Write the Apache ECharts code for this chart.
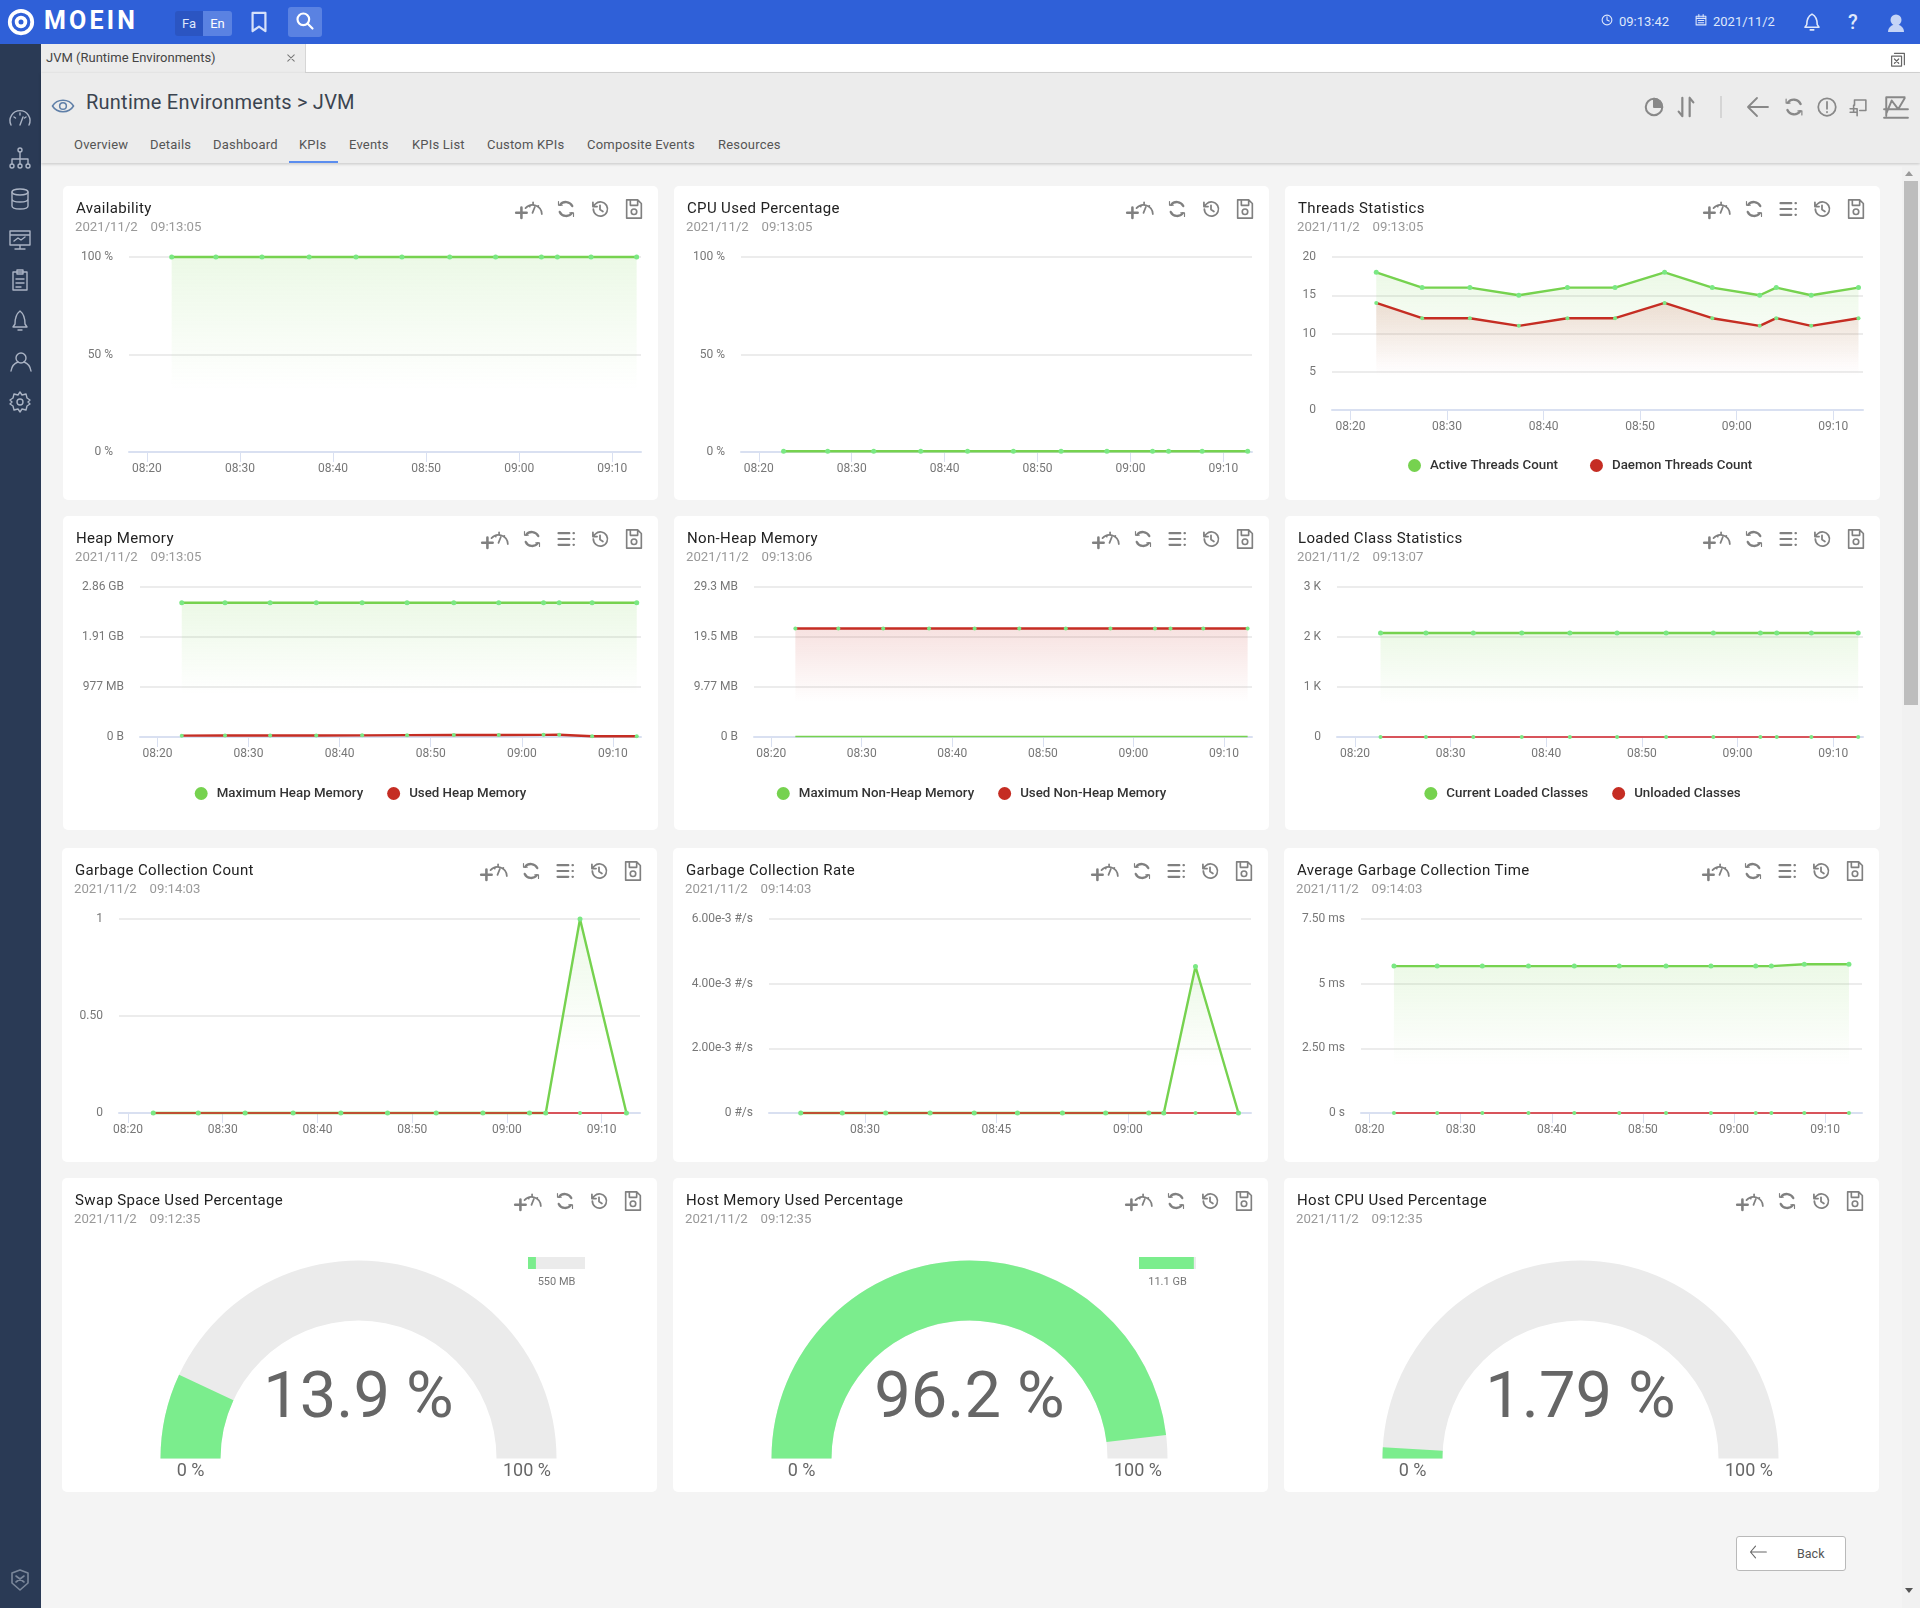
<!DOCTYPE html>
<html>
<head>
<meta charset="utf-8">
<title>JVM KPIs</title>
<script src="https://cdn.jsdelivr.net/npm/echarts@6/dist/echarts.min.js"></script>
<style>
html,body{margin:0;padding:0;width:1920px;height:1608px;overflow:hidden;background:#f4f4f4;font-family:Roboto,sans-serif;color:#333}
div,span,svg{position:absolute}
.top{left:0;top:0;width:1920px;height:44px;background:#2f60d8;color:#dfe8fb;font-size:13px}
.side{left:0;top:44px;width:41px;height:1564px;background:#2a3a55}
.tabbar{left:41px;top:44px;width:1879px;height:28px;background:#fff;border-bottom:1px solid #d6d6d6}
.tab{left:0;top:0;width:264px;height:29px;background:#ececec;border-right:1px solid #d6d6d6;font-size:13px;line-height:28px;text-indent:5px;color:#444}
.head{left:41px;top:73px;width:1879px;height:90px;background:#ececec;box-shadow:0 1px 3px rgba(0,0,0,.2)}
.crumb{left:45px;top:17px;font-size:20px;letter-spacing:.24px;color:#3b4450;white-space:nowrap}
.nav{top:63px;font-size:13px;letter-spacing:.2px;color:#555;white-space:nowrap;line-height:18px}
.ink{left:248px;top:88px;width:49px;height:2px;background:#5b8def}
.card{background:#fff;border-radius:5px}
.chart{left:0;top:0;width:100%;height:100%}
.ttl{left:13px;top:12px;font-size:15px;letter-spacing:.35px;color:#222;white-space:nowrap;line-height:20px}
.sub{left:12px;top:32px;font-size:13.2px;word-spacing:1px;color:#999;white-space:pre;line-height:18px}
.bar{left:1902px;top:166px;width:18px;height:1442px;background:#f1f1f1}
.thumb{left:2px;top:15px;width:14px;height:524px;background:#bdbdbd}
.back{left:1736px;top:1536px;width:108px;height:33px;background:#fff;border:1px solid #b9b9b9;border-radius:3px;font-size:12.5px;color:#555;line-height:33px;text-indent:60px}
.ic{fill:none;stroke-linecap:round;stroke-linejoin:round}
</style>
</head>
<body>
<div class="top">
  <span id="logoText" style="left:44px;top:6px;font-size:25px;font-weight:700;letter-spacing:3.2px;color:#fff">MOEIN</span>
  <span style="left:175px;top:11px;width:28px;height:25px;background:#2b55c2;border-radius:3px 0 0 3px;text-align:center;line-height:25px">Fa</span>
  <span style="left:203px;top:11px;width:29px;height:25px;background:#5a82e2;border-radius:0 3px 3px 0;text-align:center;line-height:25px;color:#fff">En</span>
  <span style="left:288px;top:7px;width:34px;height:30px;background:#5a82e2;border-radius:3px"></span>
  <span style="left:1619px;top:14px">09:13:42</span>
  <span style="left:1713px;top:14px">2021/11/2</span>
  <span style="left:1848px;top:10px;font-size:20px;font-weight:500;color:#dfe8fb">?</span>
</div>
<div class="side"></div>
<div class="tabbar"><div class="tab">JVM (Runtime Environments)</div></div>
<div class="head">
  <span class="crumb">Runtime Environments &gt; JVM</span>
  <span class="nav" style="left:33px">Overview</span>
  <span class="nav" style="left:109px">Details</span>
  <span class="nav" style="left:172px">Dashboard</span>
  <span class="nav" style="left:258px">KPIs</span>
  <span class="nav" style="left:308px">Events</span>
  <span class="nav" style="left:371px">KPIs List</span>
  <span class="nav" style="left:446px">Custom KPIs</span>
  <span class="nav" style="left:546px">Composite Events</span>
  <span class="nav" style="left:677px">Resources</span>
  <div class="ink"></div>
</div>
<div class="bar"><div class="thumb"></div></div>
<div class="back">Back</div>
<div id="cards"></div>
<svg id="icons" width="1920" height="1608" style="left:0;top:0;pointer-events:none"></svg>

<script>
// sample times shared by all the trend charts
var sampleTimes = ["08:22:40","08:27:25","08:32:22","08:37:26","08:42:28","08:47:24","08:52:32","08:57:28","09:02:23","09:04:06","09:07:43","09:12:37"];
var tickTimes = ["08:20:00","08:30:00","08:40:00","08:50:00","09:00:00","09:10:00"];
var rateTickTimes = ["08:30:00","08:45:00","09:00:00"];

var availabilityValues = [100,100,100,100,100,100,100,100,100,100,100,100];
var cpuValues = [0.4,0.4,0.4,0.4,0.4,0.4,0.4,0.4,0.4,0.4,0.4,0.4];
var activeThreads = [18,16,16,15,16,16,18,16,15,16,15,16];
var daemonThreads = [14,12,12,11,12,12,14,12,11,12,11,12];
var heapMax = [2750,2750,2750,2750,2750,2750,2750,2750,2750,2750,2750,2750];
var heapUsed = [28,30,30,32,34,38,40,42,44,46,14,16];
var nonHeapMax = [0.1,0.1,0.1,0.1,0.1,0.1,0.1,0.1,0.1,0.1,0.1,0.1];
var nonHeapUsed = [21.2,21.2,21.2,21.2,21.2,21.2,21.2,21.2,21.2,21.2,21.2,21.2];
var loadedClasses = [2.08,2.08,2.08,2.08,2.08,2.08,2.08,2.08,2.08,2.08,2.08,2.08];
var unloadedClasses = [0,0,0,0,0,0,0,0,0,0,0,0];
var gcCount = [0,0,0,0,0,0,0,0,0,0,1,0];
var gcCountOther = [0,0,0,0,0,0,0,0,0,0,0,0];
var gcRate = [0,0,0,0,0,0,0,0,0,0,4.53,0];
var gcRateOther = [0,0,0,0,0,0,0,0,0,0,0,0];
var gcTime = [5.68,5.68,5.68,5.68,5.68,5.68,5.68,5.68,5.68,5.68,5.75,5.75];
var gcTimeOther = [0,0,0,0,0,0,0,0,0,0,0,0];

var percentLabels = ["0 %","50 %","100 %"];
var threadLabels = ["0","5","10","15","20"];
var heapLabels = ["0 B","977 MB","1.91 GB","2.86 GB"];
var nonHeapLabels = ["0 B","9.77 MB","19.5 MB","29.3 MB"];
var classLabels = ["0","1 K","2 K","3 K"];
var countLabels = ["0","0.50","1"];
var rateLabels = ["0 #/s","2.00e-3 #/s","4.00e-3 #/s","6.00e-3 #/s"];
var timeLabels = ["0 s","2.50 ms","5 ms","7.50 ms"];

var gaugeValues = [13.9,96.2,1.79];
var gaugeCaptions = ["550 MB","11.1 GB",""];
var gaugeEnds = ["0 %","100 %"];

var GREEN="#76d24f", RED="#c52d23", DOT="#7be884", FILL="#7bed8d";
var colX=[63,674,1285], rowY=[186,516,848,1178], CARD_W=595, CARD_H=314;

var trendCards = [
 {title:"Availability",stamp:"09:13:05",col:0,row:0,left:66,bottom:48,step:50,labels:percentLabels,series:[["Availability",availabilityValues,GREEN]]},
 {title:"CPU Used Percentage",stamp:"09:13:05",col:1,row:0,left:67,bottom:48,step:50,labels:percentLabels,series:[["CPU Used Percentage",cpuValues,GREEN]]},
 {title:"Threads Statistics",stamp:"09:13:05",col:2,row:0,left:47,bottom:90,step:5,labels:threadLabels,list:1,legendTop:268,legendLeft:118,legendGap:32,series:[["Active Threads Count",activeThreads,GREEN],["Daemon Threads Count",daemonThreads,RED]]},
 {title:"Heap Memory",stamp:"09:13:05",col:0,row:1,left:77,bottom:93,step:1024,labels:heapLabels,list:1,legendTop:266,series:[["Maximum Heap Memory",heapMax,GREEN],["Used Heap Memory",heapUsed,RED]]},
 {title:"Non-Heap Memory",stamp:"09:13:06",col:1,row:1,left:80,bottom:93,step:9.765625,labels:nonHeapLabels,list:1,legendTop:266,plainFirst:1,series:[["Maximum Non-Heap Memory",nonHeapMax,GREEN],["Used Non-Heap Memory",nonHeapUsed,RED]]},
 {title:"Loaded Class Statistics",stamp:"09:13:07",col:2,row:1,left:52,bottom:93,step:1,labels:classLabels,list:1,legendTop:266,thinSecond:1,series:[["Current Loaded Classes",loadedClasses,GREEN],["Unloaded Classes",unloadedClasses,RED]]},
 {title:"Garbage Collection Count",stamp:"09:14:03",col:0,row:2,left:57,bottom:49,step:0.5,labels:countLabels,list:1,thinSecond:1,series:[["Garbage Collection Count",gcCount,GREEN],["Other",gcCountOther,RED]]},
 {title:"Garbage Collection Rate",stamp:"09:14:03",col:1,row:2,left:96,bottom:49,step:2,labels:rateLabels,list:1,thinSecond:1,ticks:rateTickTimes,series:[["Garbage Collection Rate",gcRate,GREEN],["Other",gcRateOther,RED]]},
 {title:"Average Garbage Collection Time",stamp:"09:14:03",col:2,row:2,left:77,bottom:49,step:2.5,labels:timeLabels,list:1,thinSecond:1,series:[["Average Garbage Collection Time",gcTime,GREEN],["Other",gcTimeOther,RED]]}
];
var gaugeCards = [
 {title:"Swap Space Used Percentage",col:0},
 {title:"Host Memory Used Percentage",col:1},
 {title:"Host CPU Used Percentage",col:2}
];

function stamp(t){ return new Date("2021-11-02 "+t).getTime(); }
function pad(n){ return (n<10?"0":"")+n; }
function hhmm(v){ var d=new Date(v); return pad(d.getHours())+":"+pad(d.getMinutes()); }

function fade(color,alpha){
  var r=parseInt(color.substr(1,2),16),g=parseInt(color.substr(3,2),16),b=parseInt(color.substr(5,2),16);
  return "rgba("+r+","+g+","+b+","+alpha+")";
}

function addCard(x,y,title,sub){
  var card=document.createElement("div");
  card.className="card";
  card.style.cssText="left:"+x+"px;top:"+y+"px;width:"+CARD_W+"px;height:"+CARD_H+"px";
  card.innerHTML='<div class="chart"></div><span class="ttl">'+title+'</span><span class="sub">'+sub+'</span>';
  document.getElementById("cards").appendChild(card);
  return card.firstChild;
}

function trendOption(c){
  var endMs=stamp(c.stamp);
  var ticks=(c.ticks||tickTimes).map(stamp);
  return {
    animation:false,
    grid:{left:c.left,right:17,top:71,bottom:c.bottom},
    legend:c.legendTop?{
      show:true,top:c.legendTop,left:c.legendLeft||"center",icon:"circle",itemWidth:13,itemHeight:13,itemGap:c.legendGap||24,
      data:c.series.map(function(s){return {name:s[0],itemStyle:{color:s[2]}};}),
      textStyle:{fontFamily:"Roboto",fontSize:13.3,fontWeight:500,color:"#333",padding:[0,0,0,4]}
    }:{show:false},
    // value axis on milliseconds, the ticks are the listed clock times
    xAxis:{
      type:"value",min:endMs-55*60000,max:endMs,
      axisLine:{lineStyle:{color:"#d9e0f1",width:2}},
      axisTick:{show:true,length:10,customValues:ticks,lineStyle:{color:"#d9e0f1"}},
      splitLine:{show:false},
      axisLabel:{customValues:ticks,formatter:hhmm,margin:11,fontFamily:"Roboto",fontSize:12,color:"#777"}
    },
    yAxis:{
      type:"value",min:0,max:c.step*(c.labels.length-1),interval:c.step,
      axisLine:{show:false},axisTick:{show:false},
      splitLine:{lineStyle:{color:"#e6e6e6",width:1.5}},
      axisLabel:{margin:16,fontFamily:"Roboto",fontSize:12,color:"#777",formatter:function(v){return c.labels[Math.round(v/c.step)];}}
    },
    series:c.series.map(function(s,i){
      var thin=i==1&&c.thinSecond;
      var plain=i==0&&c.plainFirst;
      return {
        name:s[0],type:"line",clip:false,showSymbol:!plain,showAllSymbol:true,symbol:"circle",symbolSize:i==0?5:4,
        lineStyle:{color:thin?"#d8262a":s[2],width:thin||plain?1.5:2.4},
        // the dots stay light green on both lines
        itemStyle:{color:DOT},
        emphasis:{disabled:true},
        data:sampleTimes.map(function(t,k){return [stamp(t),s[1][k]];}),
        areaStyle:{color:{type:"linear",x:0,y:0,x2:0,y2:1,colorStops:[{offset:0,color:fade(s[2],0.2)},{offset:0.68,color:fade(s[2],0)},{offset:1,color:fade(s[2],0)}]}}
      };
    })
  };
}

function endLabel(text,x){
  return {type:"text",x:x,y:293,style:{text:text,align:"center",verticalAlign:"middle",fontFamily:"Roboto",fontSize:18,fill:"#666"}};
}

function gaugeOption(value,caption){
  var opt={
    animation:false,
    graphic:[endLabel(gaugeEnds[0],128.6),endLabel(gaugeEnds[1],465)],
    series:[{
      type:"gauge",center:[296.5,280.5],radius:198,startAngle:180,endAngle:0,min:0,max:100,
      pointer:{show:false},axisTick:{show:false},splitLine:{show:false},axisLabel:{show:false},
      axisLine:{lineStyle:{width:60,color:[[1,"#ebebeb"]]}},
      progress:{show:true,width:60,roundCap:false,itemStyle:{color:FILL}},
      title:{show:false},
      detail:{valueAnimation:false,offsetCenter:[0,-58],formatter:"{value} %",fontFamily:"Roboto",fontSize:65,fontWeight:400,color:"#666"},
      data:[{value:value}]
    }]
  };
  if(caption){
    opt.grid={left:466,top:79,width:57,height:12};
    opt.xAxis={type:"value",min:0,max:100,name:caption,nameLocation:"middle",nameGap:8,nameTextStyle:{fontFamily:"Roboto",fontSize:11,color:"#777"},
      axisLine:{show:false},axisTick:{show:false},axisLabel:{show:false},splitLine:{show:false}};
    opt.yAxis={type:"category",data:["used"],show:false};
    opt.series.push({type:"bar",barWidth:12,data:[value],showBackground:true,backgroundStyle:{color:"#ebebeb"},itemStyle:{color:FILL}});
  }
  return opt;
}

var svg=document.getElementById("icons");
function addIcon(body,cx,cy,size,color,sw){
  var g=document.createElementNS("http://www.w3.org/2000/svg","g");
  var s=size/24;
  g.setAttribute("class","ic");
  g.setAttribute("transform","translate("+(cx-size/2)+","+(cy-size/2)+") scale("+s+")");
  g.setAttribute("stroke",color);
  g.setAttribute("stroke-width",sw||1.8);
  g.innerHTML=body;
  svg.appendChild(g);
}
var ICON={
  gaugePlus:'<path d="M9 13A8 8 0 0 1 23 18M15.500 8v1M20 11l-.7.7M12 11l.7.7M15 17l2-5"/><path d="M1 17h9M5.500 12.500v9" stroke-width="2.2"/>',
  refresh:'<path d="M19.500 8.500A8.500 8.500 0 0 0 5 7M4.500 15.500A8.500 8.500 0 0 0 19 17" stroke-width="2.800"/><path d="M3 3v4.500h4.500M21 21v-4.500h-4.500" stroke-width="1.400"/>',
  list:'<path d="M3 5h13M3 12h13M3 19h13M21 5h.5M21 12h.5M21 19h.5" stroke-width="2.6"/>',
  history:'<path d="M4 12a8.5 8.5 0 1 0 2.5-6L3.500 9M3.500 4v5h5M12 7.500V12.500l3.500 2.500" stroke-width="2.100"/>',
  save:'<path d="M4 2h12l4 4v16H4zM8 2v6h8V2"/><circle cx="12" cy="15" r="3"/>'
};
function cardIcons(x,y,list){
  var right=x+CARD_W, cy=y+23;
  addIcon(ICON.save,right-24,cy,22,"#808080");
  addIcon(ICON.history,right-58,cy,20,"#808080");
  var n=right-92;
  if(list){ addIcon(ICON.list,n,cy,20,"#808080"); n-=34; }
  addIcon(ICON.refresh,n,cy,20,"#808080");
  addIcon(ICON.gaugePlus,n-37,cy-2,28,"#808080",1.5);
}

// trend cards
trendCards.forEach(function(c){
  var x=colX[c.col]-(c.row==2?1:0), y=rowY[c.row];
  var el=addCard(x,y,c.title,"2021/11/2   "+c.stamp);
  var chart=echarts.init(el);
  chart.setOption(trendOption(c));
  cardIcons(x,y,c.list);
});

// gauge cards
gaugeCards.forEach(function(c,i){
  var x=colX[c.col]-1, y=rowY[3];
  var el=addCard(x,y,c.title,"2021/11/2   09:12:35");
  var chart=echarts.init(el);
  chart.setOption(gaugeOption(gaugeValues[i],gaugeCaptions[i]));
  cardIcons(x,y,false);
});

// page chrome icons
var sideIcons=[
  '<path d="M3 19a10 10 0 1 1 18 0M12 19l3-8M12 7v2M6 11l1.500 1M18 11l-1.500 1"/>',
  '<circle cx="12" cy="4" r="2"/><circle cx="4" cy="20" r="2"/><circle cx="12" cy="20" r="2"/><circle cx="20" cy="20" r="2"/><path d="M12 6v12M4 18v-5h16v5"/>',
  '<ellipse cx="12" cy="5" rx="8" ry="3"/><path d="M4 5v14c0 4 16 4 16 0V5M4 12c0 4 16 4 16 0"/>',
  '<path d="M2 3h20v14H2zM2 7h20M12 17v4M7 21h10M6 13l4-3 3 2 4-3"/>',
  '<path d="M5 4h14v18H5zM9 2h6v4H9zM8 11h8M8 15h8M8 19h5"/>',
  '<path d="M12 2c-4 3-5 8-5 13l-2 3h14l-2-3c0-5-1-10-5-13zM10 21h4"/>',
  '<circle cx="13" cy="8" r="5"/><path d="M3 21c1-6 4-8 7-9M23 21c-1-6-4-8-7-9"/>',
  '<circle cx="12" cy="12" r="3"/><path d="M12 2l2 3 4-1 1 4 3 2-2 2 2 2-3 2-1 4-4-1-2 3-2-3-4 1-1-4-3-2 2-2-2-2 3-2 1-4 4 1z"/>'
];
var sideY=[118,158,199,240,280,321,362,402];
sideIcons.forEach(function(b,i){ addIcon(b,20,sideY[i],24,"#aab3c4",1.4); });
addIcon('<path d="M4 5l8-3 8 3v10l-8 7-8-7zM8 8l8 6M16 8l-8 6"/>',20,1580,24,"#7b879a",1.6);

addIcon('<circle cx="12" cy="12" r="9"/><circle cx="12" cy="12" r="3.500"/>',21,22,30,"#fff",3);
addIcon('<path d="M5 2h14v20l-7-5-7 5z"/>',259,22,22,"#d6e1fa",2.4);
addIcon('<circle cx="10" cy="10" r="7"/><path d="M15 15l6 6"/>',305,21,20,"#fff",2.6);
addIcon('<circle cx="12" cy="12" r="9"/><path d="M12 6v6l4 2"/>',1607,20,13,"#dfe8fb",2);
addIcon('<path d="M3 5h18v16H3zM3 9h18M8 2v4M16 2v4M7 13h10M7 17h10"/>',1701,20,13,"#dfe8fb",2);
addIcon('<path d="M12 3c-4 2-6 6-6 12l-2 3h16l-2-3c0-6-2-10-6-12zM10 21h4"/>',1812,22,21,"#dfe8fb",1.8);
svg.insertAdjacentHTML("beforeend",'<g fill="#c5d4f6"><circle cx="1896" cy="20" r="5.500"/><path d="M1888 32c0-10 16-10 16 0z"/></g>');

addIcon('<path d="M1 12c5-8 17-8 22 0-5 8-17 8-22 0z"/><circle cx="12" cy="12" r="3.500"/>',63,106,23,"#5f7fa8",1.6);
addIcon('<path d="M7 4h14v16M3 8h14v14H3zM7 12l6 6M13 12l-6 6"/>',1898,59,17,"#666",1.7);

var gray="#888";
addIcon('<circle cx="12" cy="12" r="9"/><path d="M12 3v9h9A9 9 0 0 0 12 3z" fill="#888"/>',1654,107,22,gray,2.2);
addIcon('<path d="M8 2v20M8 22l-4-5M16 22V2M16 2l4 5"/>',1686,107,22,gray,2.4);
addIcon('<path d="M22 12H3M11 3l-9 9 9 9"/>',1758,107,24,gray,1.8);
addIcon(ICON.refresh,1794,107,21,gray);
addIcon('<circle cx="12" cy="12" r="10"/><path d="M12 6v8M12 17.500v.5"/>',1827,107,21,gray,2);
addIcon('<path d="M8 10V4h13v12h-7M3 14h8v8M7 10v8M3 18h8"/>',1858,107,21,gray,1.8);
addIcon('<path d="M1 22h22M1 14h22M3 20V3h17M3 18l5-12 6 8 6-10"/>',1896,107,26,gray,1.8);
svg.insertAdjacentHTML("beforeend",'<rect x="1720" y="96" width="2" height="22" fill="#d5d5d5"/>');
addIcon('<path d="M22 12H3M9 5l-6 7 6 7"/>',1758,1552,20,"#666",1.3);
addIcon('<path d="M5 5l14 14M19 5L5 19"/>',291,58,11,"#777",2.200);
svg.insertAdjacentHTML("beforeend",'<path d="M1905 176l4-5 4 5z" fill="#999"/><path d="M1905 1588l4 5 4-5z" fill="#555"/>');
</script>
</body>
</html>
